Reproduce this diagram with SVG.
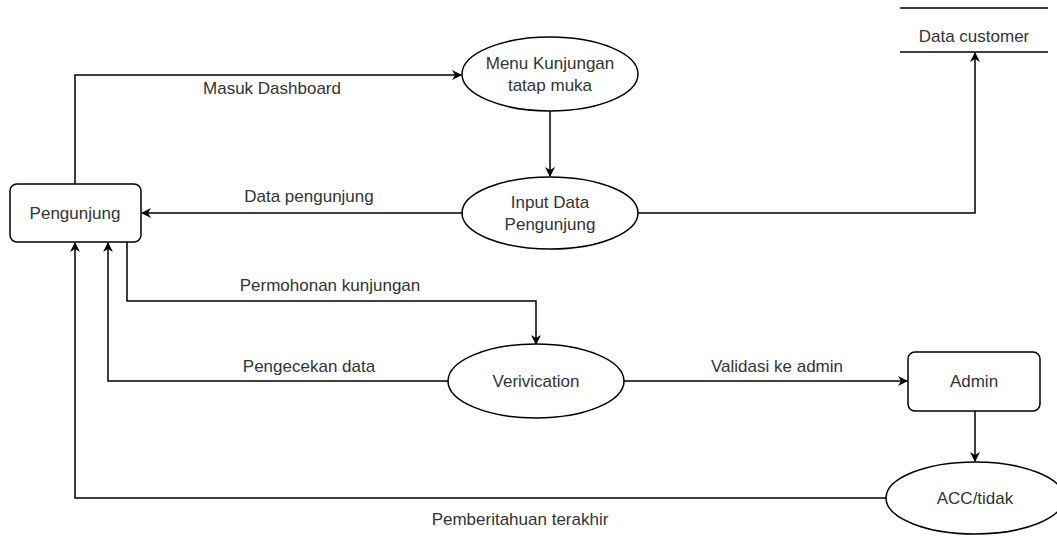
<svg xmlns="http://www.w3.org/2000/svg" width="1057" height="536" viewBox="0 0 1057 536">
<defs>
<style>
.n{fill:#fff;stroke:#000;stroke-width:1.5}
.e{fill:none;stroke:#000;stroke-width:1.5}
text{font-family:"Liberation Sans",Arial,sans-serif;font-size:17px;fill:#333;text-anchor:middle}
</style>
<marker id="a" viewBox="0 0 10 10" refX="9" refY="5" markerWidth="10" markerHeight="10" markerUnits="userSpaceOnUse" orient="auto">
<path d="M0,0 L10,5 L0,10 L3,5 Z" fill="#000"/>
</marker>
</defs>
<rect width="1057" height="536" fill="#fff"/>
<g id="connectors">
<path class="e" d="M75,184 V75 H461" marker-end="url(#a)"/>
<path class="e" d="M550,111 V176" marker-end="url(#a)"/>
<path class="e" d="M462,213 H142" marker-end="url(#a)"/>
<path class="e" d="M638,213 H975 V53" marker-end="url(#a)"/>
<path class="e" d="M127,242 V301 H536 V344" marker-end="url(#a)"/>
<path class="e" d="M448,381 H108 V243" marker-end="url(#a)"/>
<path class="e" d="M624,381 H907" marker-end="url(#a)"/>
<path class="e" d="M975,411 V461" marker-end="url(#a)"/>
<path class="e" d="M886,498 H75 V243" marker-end="url(#a)"/>
<text x="272" y="94">Masuk Dashboard</text>
<text x="309" y="202">Data pengunjung</text>
<text x="330" y="291">Permohonan kunjungan</text>
<text x="309" y="372">Pengecekan data</text>
<text x="777" y="372">Validasi ke admin</text>
<text x="520" y="525">Pemberitahuan terakhir</text>
</g>
<g id="pengunjung">
<rect class="n" x="10" y="184" width="131" height="58" rx="7"/>
<text x="75" y="219">Pengunjung</text>
</g>
<g id="menu">
<ellipse class="n" cx="550" cy="74" rx="88" ry="37"/>
<text x="550" y="69">Menu Kunjungan</text>
<text x="550" y="91">tatap muka</text>
</g>
<g id="input">
<ellipse class="n" cx="550" cy="213" rx="88" ry="36"/>
<text x="550" y="208">Input Data</text>
<text x="550" y="230">Pengunjung</text>
</g>
<g id="datacustomer">
<line class="e" x1="900" y1="8" x2="1048" y2="8"/>
<line class="e" x1="900" y1="52" x2="1048" y2="52"/>
<text x="974" y="42">Data customer</text>
</g>
<g id="verivication">
<ellipse class="n" cx="536" cy="381" rx="88" ry="37"/>
<text x="536" y="387">Verivication</text>
</g>
<g id="admin">
<rect class="n" x="908" y="352" width="132" height="59" rx="7"/>
<text x="974" y="387">Admin</text>
</g>
<g id="acc">
<ellipse class="n" cx="975" cy="498" rx="89" ry="36"/>
<text x="975" y="504">ACC/tidak</text>
</g>
</svg>
